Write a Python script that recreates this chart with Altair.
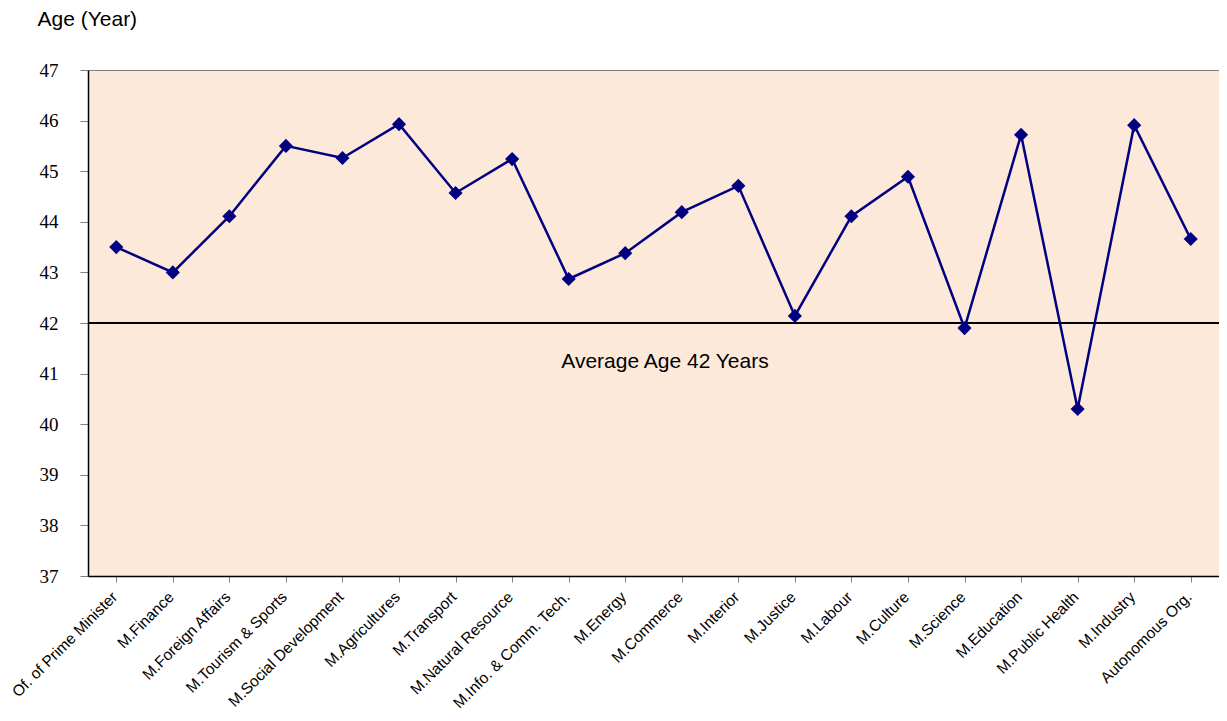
import altair as alt
import pandas as pd

categories = ["Of. of Prime Minister", "M.Finance", "M.Foreign Affairs", "M.Tourism & Sports",
              "M.Social Development", "M.Agricultures", "M.Transport", "M.Natural Resource",
              "M.Info. & Comm. Tech.", "M.Energy", "M.Commerce", "M.Interior", "M.Justice",
              "M.Labour", "M.Culture", "M.Science", "M.Education", "M.Public Health",
              "M.Industry", "Autonomous Org."]
ages = [43.50, 43.00, 44.11, 45.50, 45.26, 45.93, 44.57, 45.24, 42.87, 43.38,
        44.19, 44.71, 42.14, 44.11, 44.89, 41.90, 45.72, 40.30, 45.91, 43.66]
average_age = 42
avg_label = "Average Age 42 Years"

df = pd.DataFrame({"cat": categories, "age": ages})

W, H = 1131, 506
yscale = alt.Scale(domain=[37, 47], nice=False, zero=False)

x = alt.X("cat:N", sort=categories, scale=alt.Scale(paddingInner=0, paddingOuter=0),
          axis=alt.Axis(title=None, labelAngle=-45, labelAlign="right", labelBaseline="middle",
                        labelFont="Liberation Sans", labelFontSize=15.5, labelColor="black",
                        labelPadding=12, labelOffset=-2, bandPosition=0, tickColor="#808080", tickSize=6,
                        domainColor="black", domainWidth=1.5, labelOverlap=False,
                        labelLimit=300))
y = alt.Y("age:Q", scale=yscale,
          axis=alt.Axis(title="Age (Year)", titleAngle=0, titleAlign="left", titleBaseline="middle",
                        titleX=-51, titleY=-51, titleFont="Liberation Sans", titleFontSize=21,
                        titleFontWeight="normal", titleColor="black",
                        values=list(range(37, 48)), labelFont="'Liberation Serif', 'Times New Roman', serif",
                        labelFontSize=19,
                        labelColor="black", labelPadding=22, tickColor="#808080", tickSize=8,
                        domainColor="black", domainWidth=1.5, grid=False))

line = alt.Chart(df).mark_line(color="#000080", strokeWidth=2.5).encode(x=x, y=y)
pts = alt.Chart(df).mark_point(shape="diamond", filled=True, color="#000080", size=200, opacity=1).encode(x=x, y=y)

rule = alt.Chart(pd.DataFrame({"v": [average_age]})).mark_rule(color="black", strokeWidth=2).encode(
    y=alt.Y("v:Q", scale=yscale))
txt = alt.Chart(pd.DataFrame({"t": [avg_label], "v": [41.23]})).mark_text(
    font="Liberation Sans", fontSize=21, color="black", align="center", baseline="middle").encode(
    x=alt.value(577), y=alt.Y("v:Q", scale=yscale), text="t:N")

chart = alt.layer(rule, line, pts, txt).properties(
    width=W, height=H,
    autosize=alt.AutoSizeParams(type="none"),
    padding={"left": 80, "top": 62, "right": 0, "bottom": 137},
    view=alt.ViewBackground(fill="#FDE9DA", stroke="#808080", strokeWidth=1),
).configure(background="white")

chart.save("out.html", embed_options={"renderer": "svg", "actions": False})
